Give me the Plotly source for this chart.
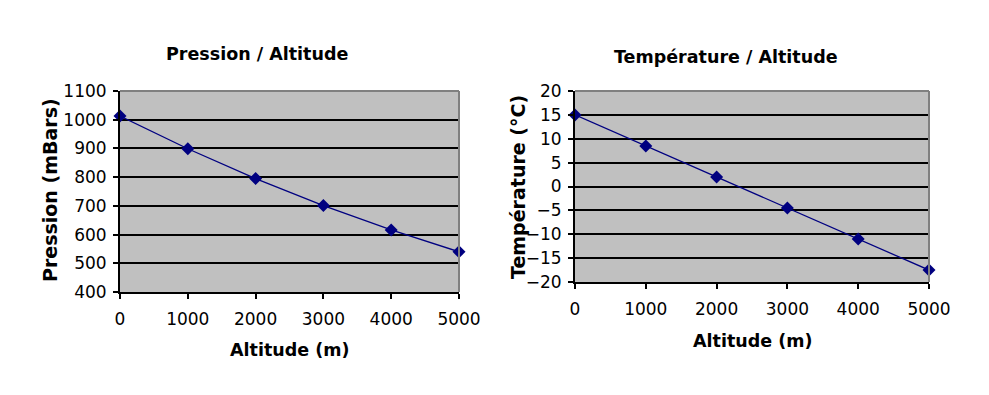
import plotly.graph_objects as go

altitude = [0, 1000, 2000, 3000, 4000, 5000]
pression = [1013, 899, 795, 701, 616, 540]
temperature = [15, 8.5, 2, -4.5, -11, -17.5]

x_ticks = [0, 1000, 2000, 3000, 4000, 5000]
p_ticks = [400, 500, 600, 700, 800, 900, 1000, 1100]
t_ticks = [-20, -15, -10, -5, 0, 5, 10, 15, 20]

W, H = 989, 395
FONT = "DejaVu Sans"
NAVY = "#000080"


def px(x):
    return x / W


def py(y):
    return 1 - y / H


fig = go.Figure()
fig.add_trace(go.Scatter(x=altitude, y=pression, mode="lines+markers",
                         line=dict(color=NAVY, width=1.3),
                         marker=dict(symbol="diamond", size=10, color=NAVY),
                         cliponaxis=False, xaxis="x", yaxis="y", showlegend=False))
fig.add_trace(go.Scatter(x=altitude, y=temperature, mode="lines+markers",
                         line=dict(color=NAVY, width=1.3),
                         marker=dict(symbol="diamond", size=10, color=NAVY),
                         cliponaxis=False, xaxis="x2", yaxis="y2", showlegend=False))

common_x = dict(tickvals=x_ticks, showgrid=False, zeroline=False,
                showline=True, linecolor="black", linewidth=2,
                ticks="outside", ticklen=5, tickwidth=2, tickcolor="black",
                tickfont=dict(family=FONT, size=17, color="black"),
                automargin=False, fixedrange=True)
common_y = dict(showgrid=True, gridcolor="black", zeroline=False,
                showline=True, linecolor="black", linewidth=2,
                ticks="outside", ticklen=5, tickwidth=2, tickcolor="black",
                tickfont=dict(family=FONT, size=17, color="black"),
                automargin=False, fixedrange=True)

L = dict(x0=120, x1=459, y0=91, y1=292)
R = dict(x0=575, x1=929, y0=91, y1=282)

fig.update_layout(
    template="none",
    width=W, height=H,
    margin=dict(l=0, r=0, t=0, b=0, autoexpand=False),
    paper_bgcolor="white",
    plot_bgcolor="#C0C0C0",
    xaxis=dict(domain=[px(L["x0"]), px(L["x1"])], range=[0, 5000], anchor="y",
               ticklabelstandoff=6, **common_x),
    yaxis=dict(domain=[py(L["y1"]), py(L["y0"])], range=[400, 1100], anchor="x",
               tickvals=p_ticks, gridwidth=2, ticklabelstandoff=3, **common_y),
    xaxis2=dict(domain=[px(R["x0"]), px(R["x1"])], range=[0, 5000], anchor="y2",
                ticklabelstandoff=6, **common_x),
    yaxis2=dict(domain=[py(R["y1"]), py(R["y0"])], range=[-20, 20], anchor="x2",
                tickvals=t_ticks, gridwidth=1.5, ticklabelstandoff=3, **common_y),
)

# gray top/right borders of plot areas
for b in (L, R):
    fig.add_shape(type="line", xref="paper", yref="paper",
                  x0=px(b["x0"]), x1=px(b["x1"]), y0=py(b["y0"]), y1=py(b["y0"]),
                  line=dict(color="#808080", width=2))
    fig.add_shape(type="line", xref="paper", yref="paper",
                  x0=px(b["x1"]), x1=px(b["x1"]), y0=py(b["y0"]), y1=py(b["y1"]),
                  line=dict(color="#808080", width=2))

anns = [
    ("Pression / Altitude", 257, 54, 0, 17.5),
    ("Altitude (m)", 289.5, 350, 0, 17.5),
    ("Pression (mBars)", 50, 190, -90, 19),
    ("Température / Altitude", 726, 57, 0, 17.5),
    ("Altitude (m)", 752, 341, 0, 17.5),
    ("Température (°C)", 518, 187, -90, 19),
]
for text, x, y, ang, size in anns:
    fig.add_annotation(text="<b>%s</b>" % text, x=px(x), y=py(y),
                       xref="paper", yref="paper", showarrow=False,
                       xanchor="center", yanchor="middle", textangle=ang,
                       font=dict(family=FONT, size=size, color="black"))

fig.write_html("out.html", config={"displayModeBar": False},
               post_script="document.body.style.margin='0';document.body.style.overflow='hidden';")
